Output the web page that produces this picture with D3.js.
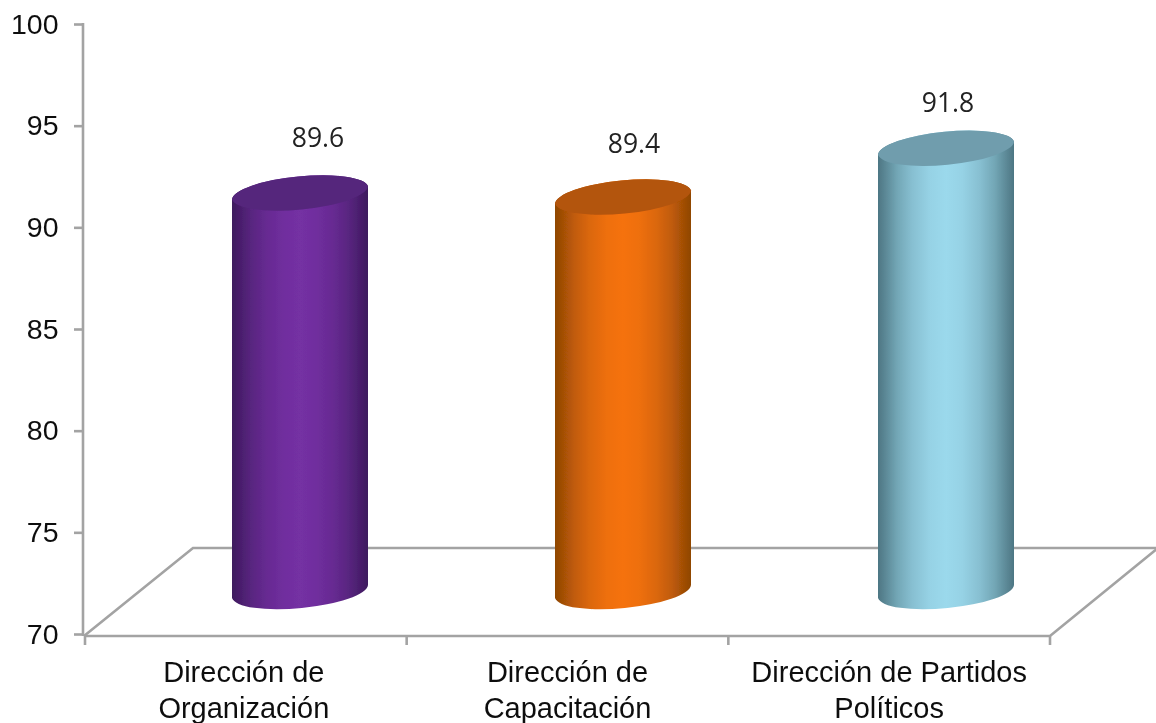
<!DOCTYPE html>
<html><head><meta charset="utf-8">
<script src="https://cdn.jsdelivr.net/npm/d3@7/dist/d3.min.js"></script>
<style>html,body{margin:0;padding:0;background:#fff;overflow:hidden}svg{display:block}</style>
</head><body><svg id="c" width="1156" height="723"></svg>
<script>
const categories = [["Dirección de","Organización"],["Dirección de","Capacitación"],["Dirección de Partidos","Políticos"]];
const values = [89.6, 89.4, 91.8];
const yTicks = [70,75,80,85,90,95,100];

const sideColors = [["#3e1a5e","#7430a3"],["#8f4604","#f5720c"],["#4d7683","#9bd9ec"]];
const topColors = ["#55267c","#b35409","#6f9dad"];
const labelNudge = [[18,-98],[11,-97],[2,-89]];
const categoryNudge = [-2,0,0];
const shadeStops = [[0,0],[.06,.2],[.14,.48],[.25,.74],[.38,.93],[.5,1],[.62,.93],[.75,.74],[.86,.48],[.94,.2],[1,0]];

const svg = d3.select("#c");
const y = d3.scaleLinear().domain([70,100]).range([634,24]);
const x = d3.scaleBand().domain(d3.range(categories.length)).range([85,1050]);
const barX = d3.scaleBand().domain(d3.range(categories.length)).range([84.5,1053.5]);
const depthX = 54, depthY = 42.5, barW = 136, rx = 68.4, ry = 17.5, rot = -5.5, lean = 6.6;
const grey = "#a3a3a3";

const defs = svg.append("defs");
const soft = defs.append("filter").attr("id","soft").attr("x",0).attr("y",0).attr("width","100%").attr("height","100%");
soft.append("feGaussianBlur").attr("stdDeviation",0.5);
sideColors.forEach((c,i)=>{
  const g = defs.append("linearGradient").attr("id","g"+i);
  const mix = d3.interpolateRgb(c[0],c[1]);
  shadeStops.forEach(s=>g.append("stop").attr("offset",s[0]).attr("stop-color",mix(s[1])));
});
const root = svg.append("g").attr("filter","url(#soft)");
root.append("rect").attr("width",1156).attr("height",723).attr("fill","#fff");

// floor
const line = d3.line();
const floorY = 636, backY = 548;
root.append("path").attr("fill","none").attr("stroke",grey).attr("stroke-width",2.6)
  .attr("d", line([[84,floorY],[193,backY],[1156,backY]]));
root.append("path").attr("fill","none").attr("stroke",grey).attr("stroke-width",2.6)
  .attr("d", line([[84,floorY],[1050,floorY],[1158,548]]));

// axes
const yAxis = d3.axisLeft(y).tickValues(yTicks).tickSize(9).tickSizeOuter(0);
const gy = root.append("g").attr("transform","translate(83,0)").call(yAxis);
gy.select(".domain").attr("stroke",grey).attr("stroke-width",2.6).attr("d","M0,23V636");
gy.selectAll(".tick line").attr("stroke",grey).attr("stroke-width",2.6);
gy.selectAll(".tick text").attr("x",-24.5).attr("font-family","'Liberation Sans',Arial,sans-serif")
  .attr("font-size",28.5).attr("fill","#111");

const edges = x.domain().map(i=>x(i)).concat([x.range()[1]]);
root.selectAll(".xt").data(edges).join("line")
  .attr("x1",d=>d).attr("x2",d=>d).attr("y1",floorY).attr("y2",floorY+9)
  .attr("stroke",grey).attr("stroke-width",2.6);

// cylinders
values.forEach((v,i)=>{
  const cx = barX(i)+barX.bandwidth()/2+depthX, yt = y(v)-depthY, yb = y(70)-depthY;
  const L = cx-barW/2, R = cx+barW/2;
  const arc = (x1,y1,sweep)=>`A${rx},${ry} ${rot} 0 ${sweep} ${x1},${y1}`;
  root.append("path").attr("fill",`url(#g${i})`)
    .attr("d",`M${L},${yt+lean}L${L},${yb+lean}${arc(R,yb-lean,0)}L${R},${yt-lean}${arc(L,yt+lean,0)}Z`);
  root.append("path").attr("fill",topColors[i])
    .attr("d",`M${L},${yt+lean}${arc(R,yt-lean,1)}${arc(L,yt+lean,1)}Z`);
  root.append("text").attr("x",cx+labelNudge[i][0]).attr("y",y(v)+labelNudge[i][1])
    .attr("text-anchor","middle").attr("dominant-baseline","central")
    .attr("font-family","'Open Sans',sans-serif").attr("font-size",26.5).attr("fill","#222").text(v.toFixed(1));
});

// category labels
categories.forEach((lines,i)=>{
  const t = root.append("text").attr("text-anchor","middle")
    .attr("font-family","'Liberation Sans',Arial,sans-serif").attr("font-size",29).attr("fill","#111");
  lines.forEach((s,k)=>t.append("tspan").attr("x",x(i)+x.bandwidth()/2+categoryNudge[i]).attr("y",682+k*36).text(s));
});
</script></body></html>
